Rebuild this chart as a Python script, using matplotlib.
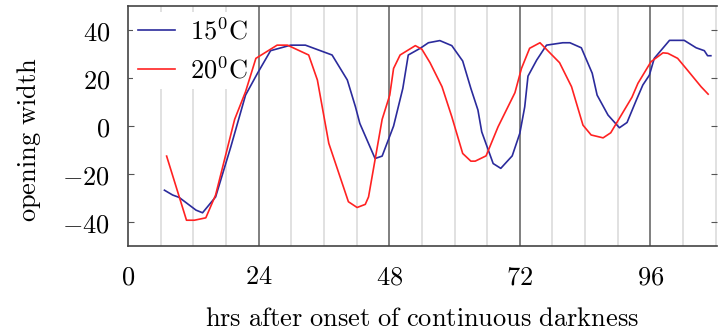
import matplotlib
matplotlib.use("Agg")
import matplotlib.pyplot as plt

plt.rcParams['mathtext.fontset'] = 'cm'
plt.rcParams['font.family'] = ['DejaVu Serif']

# 15 C series
t15 = [6.7, 8.2, 9.4, 12.5, 13.7, 16.1, 18.9, 21.6, 23.8, 26.2, 29.9, 32.6, 37.5, 40.3,
       41.8, 42.6, 45.4, 46.7, 48.8, 50.5, 51.5, 53.7, 55.2, 57.3, 59.5, 61.5, 63.0,
       64.3, 65.0, 67.1, 68.5, 70.6, 72.0, 72.9, 73.5, 75.1, 76.9, 79.9, 81.2, 83.3,
       85.3, 86.2, 88.2, 90.3, 91.7, 93.4, 94.6, 95.8, 96.7, 99.5, 102.2, 104.4, 105.9,
       106.5, 107.1]
w15 = [-26.7, -28.7, -29.7, -35.0, -36.1, -29.5, -8.6, 12.9, 22.0, 31.4, 33.7, 33.7, 29.6,
       19.2, 8.0, 1.1, -13.5, -12.5, 0.0, 15.7, 29.6, 32.4, 34.7, 35.6, 33.5, 27.1, 15.7,
       6.7, -2.4, -15.6, -17.6, -12.4, -3.0, 8.0, 20.8, 27.5, 33.7, 34.7, 34.7, 32.6,
       22.0, 12.9, 4.6, -0.7, 1.5, 10.8, 17.1, 21.2, 28.2, 35.7, 35.7, 32.6, 31.4,
       29.3, 29.3]

# 20 C series
t20 = [7.1, 10.75, 12.2, 14.3, 16.1, 19.6, 21.6, 23.5, 27.4, 29.3, 33.2, 34.8, 36.9, 40.5,
       42.1, 43.6, 44.2, 46.7, 48.1, 48.8, 50.0, 52.8, 54.0, 55.5, 57.7, 59.5, 61.5,
       63.0, 63.8, 65.8, 68.0, 71.1, 72.3, 73.8, 75.7, 79.3, 81.5, 83.6, 85.1, 87.3,
       88.7, 92.6, 93.7, 96.1, 98.3, 99.2, 101.0, 102.8, 105.3, 106.6]
w20 = [-12.5, -39.2, -39.2, -38.2, -28.7, 2.8, 14.3, 28.2, 33.7, 33.7, 29.6, 19.2, -7.2,
       -31.5, -33.9, -32.6, -29.5, 2.8, 12.9, 24.0, 29.6, 33.5, 32.0, 26.4, 16.4, 3.9,
       -11.4, -14.6, -14.6, -12.4, -0.3, 13.9, 24.0, 32.4, 34.7, 26.4, 16.4, 0.4, -3.7,
       -4.9, -2.8, 12.0, 17.8, 26.8, 30.5, 30.3, 28.2, 23.3, 16.4, 13.3]

xticks = [0, 24, 48, 72, 96]
yticks = [-40, -20, 0, 20, 40]
labels = [r'$15^0\mathrm{C}$', r'$20^0\mathrm{C}$']

FS = 19

fig = plt.figure(figsize=(7.19, 3.34), dpi=100)
ax = fig.add_axes([0.178, 0.263, 0.819, 0.719])

for h in range(6, 109, 6):
    if h % 24 == 0:
        ax.axvline(h, color='#6a6a6a', lw=1.2, zorder=1)
    else:
        ax.axvline(h, color='#dcdcdc', lw=1.2, zorder=0)

ax.plot(t15, w15, color='#2b2b9c', lw=1.2, label=labels[0], zorder=3)
ax.plot(t20, w20, color='#ff2222', lw=1.2, label=labels[1], zorder=3)

ax.set_xlim(0, 108.2)
ax.set_ylim(-50, 50)
ax.set_xticks(xticks, labels=[f'${v}$' for v in xticks])
ax.set_yticks(yticks, labels=[f'${v}$' for v in yticks])
ax.tick_params(axis='x', length=0, pad=13, labelsize=FS)
ax.tick_params(axis='y', direction='in', right=True, length=4, labelsize=FS,
               color='#555555', pad=13)

for s in ['top', 'bottom', 'left']:
    ax.spines[s].set_color('#444444')
    ax.spines[s].set_linewidth(1.2)
    ax.spines[s].set_zorder(4)
ax.spines['right'].set_visible(False)

ax.set_xlabel(r'$\mathrm{hrs\ after\ onset\ of\ continuous\ darkness}$', fontsize=FS, labelpad=12)
ax.set_ylabel(r'$\mathrm{opening\ width}$', fontsize=FS, labelpad=10)
ax.yaxis.set_label_coords(-0.145, 0.445)

leg = ax.legend(loc='upper left', bbox_to_anchor=(0.004, 0.985), frameon=True,
                fancybox=False, facecolor='white', edgecolor='none', framealpha=1.0,
                fontsize=FS, handlelength=1.4, borderaxespad=0.1, borderpad=0.2,
                labelspacing=0.47, handletextpad=0.57)
leg.set_zorder(2)

fig.savefig('out.png', dpi=100)
